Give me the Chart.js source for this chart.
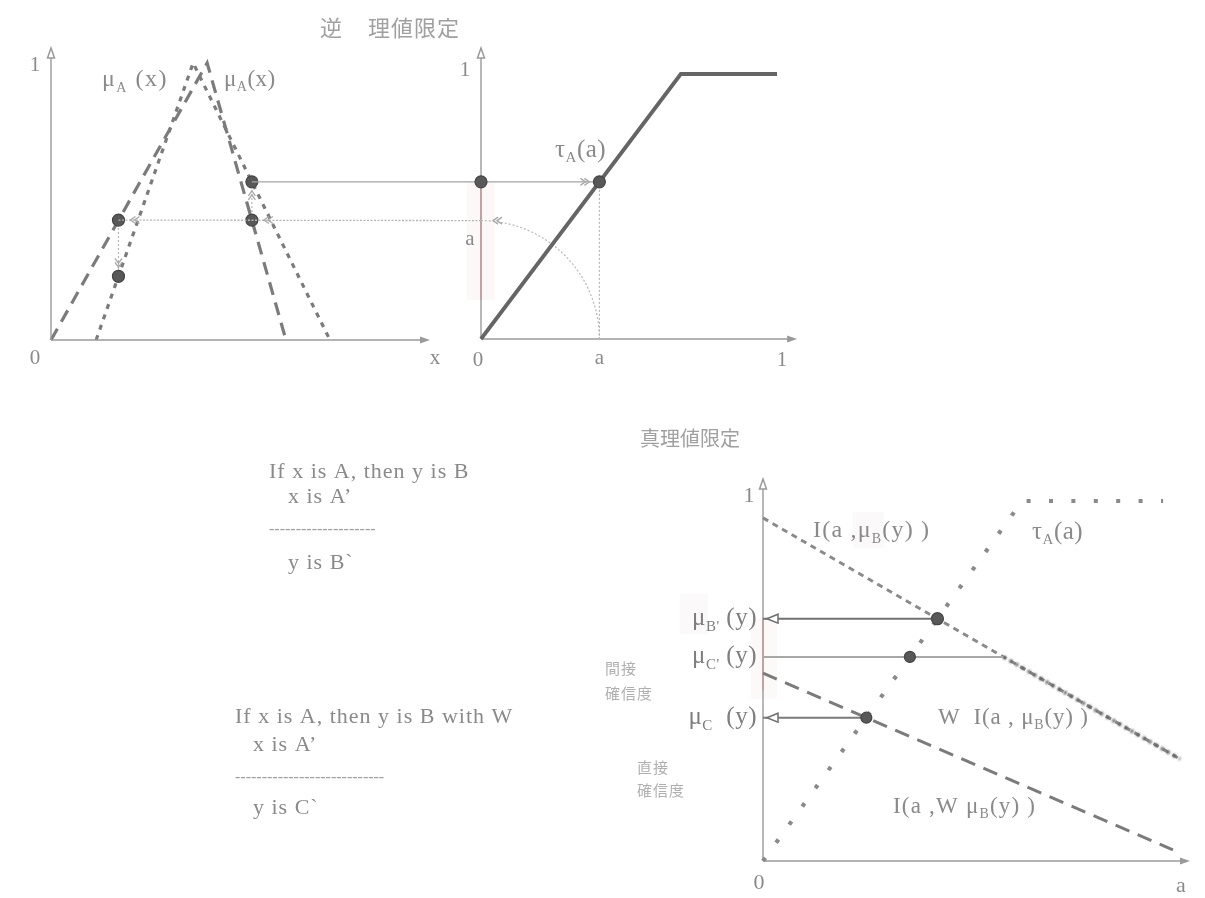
<!DOCTYPE html>
<html>
<head>
<meta charset="utf-8">
<script src="https://cdn.jsdelivr.net/npm/chart.js@4.4.1/dist/chart.umd.min.js"></script>
<style>
  html, body { margin: 0; padding: 0; background: #fff; }
  #wrap { position: relative; width: 1205px; height: 898px; overflow: hidden; background: #fff; }
  #wrap canvas { position: absolute; left: 0; top: 0; }
</style>
</head>
<body>
<div id="wrap">
  <canvas id="inv" width="1205" height="898"></canvas>
  <canvas id="tau" width="1205" height="898"></canvas>
  <canvas id="qual" width="1205" height="898"></canvas>
</div>
<script>
// ---------- top left: membership functions over x ----------
const muA  = [[0, 0], [0.412, 1], [0.62, 0]];      // μA(x)  (long dash)
const muA2 = [[0.119, 0], [0.375, 1], [0.736, 0]]; // μA'(x) (dotted)
const levelA = 0.433;                              // level a on the μ axis
const xLeft = 0.178, xRight = 0.53;                // where μA(x) = a
const muA2Left = 0.23, muA2Right = 0.571;          // μA'(x) at those x
const ticksTopLeft = ['0', '1', 'x'];

// ---------- top right: τA(a) ----------
const tauTop = [[0, 0], [0.675, 1], [1, 1]];
const aValue = 0.4;
const tauAtA = 0.593;
const ticksTopRight = ['0', 'a', '1'];

// ---------- bottom: truth-value qualification ----------
const tauBottom = [[0, 0], [0.607, 1], [0.937, 1]];
const implB  = [[0, 0.953], [0.977, 0.283]];  // I(a, μB(y))
const implWB = [[0, 0.522], [0.960, 0.031]];  // I(a, W μB(y))
const wLevel = 0.567;                         // W
const wKink  = 0.563;                         // W meets I(a, μB(y))
const muBp = [0.4085, 0.673];                 // μB'(y)
const muCp = [0.344, 0.567];                  // μC'(y)
const muC  = [0.242, 0.398];                  // μC(y)
const ticksBottom = ['0', 'a', '1'];

const LINE = '#7b7b7b';
const AXIS = '#9a9a9a';
const TEXT = '#8a8a8a';
const DOT = '#585858';
const SERIF = '"Liberation Serif", "DejaVu Serif", serif';
const CJK = '"Noto Sans CJK JP", "Noto Sans CJK SC", sans-serif';

const pts = arr => arr.map(([x, y]) => ({ x, y }));

function line(data, color, width, dash, extra) {
  return Object.assign({
    data: pts(data), showLine: true, borderColor: color, borderWidth: width,
    borderDash: dash || [], pointRadius: 0, fill: false, clip: false, tension: 0,
    borderCapStyle: 'butt'
  }, extra || {});
}
function dots(data, r, color) {
  return {
    data: pts(data), showLine: false, pointRadius: r, pointBackgroundColor: color,
    pointBorderColor: '#454545', pointBorderWidth: 1.2, clip: false
  };
}

// text with subscripts: parts = [[text, isSub], ...]
function rich(ctx, parts, x, y, size, color, align, spacing) {
  ctx.save();
  ctx.letterSpacing = (spacing || 0) + 'px';
  const sub = Math.round(size * 0.6);
  let total = 0;
  const widths = parts.map(([t, s]) => {
    ctx.font = (s ? sub : size) + 'px ' + SERIF;
    const w = ctx.measureText(t).width;
    total += w;
    return w;
  });
  let cx = align === 'right' ? x - total : align === 'center' ? x - total / 2 : x;
  ctx.fillStyle = color;
  ctx.textBaseline = 'middle';
  ctx.textAlign = 'left';
  parts.forEach(([t, s], i) => {
    ctx.font = (s ? sub : size) + 'px ' + SERIF;
    ctx.fillText(t, cx, s ? y + size * 0.34 : y);
    cx += widths[i];
  });
  ctx.restore();
}
function text(ctx, t, x, y, size, color, align, font, spacing) {
  ctx.save();
  ctx.letterSpacing = (spacing || 0) + 'px';
  ctx.font = size + 'px ' + (font || SERIF);
  ctx.fillStyle = color;
  ctx.textAlign = align || 'left';
  ctx.textBaseline = 'middle';
  ctx.fillText(t, x, y);
  ctx.restore();
}
// arrowhead with tip at (x, y) pointing along angle
function head(ctx, x, y, ang, len, wid, color, mode) {
  ctx.save();
  ctx.translate(x, y);
  ctx.rotate(ang);
  ctx.beginPath();
  if (mode === 'chevron') {
    ctx.moveTo(-len, -wid); ctx.lineTo(0, 0); ctx.lineTo(-len, wid);
    ctx.moveTo(-len - 4, -wid); ctx.lineTo(-4, 0); ctx.lineTo(-len - 4, wid);
    ctx.strokeStyle = color; ctx.lineWidth = 1.3; ctx.setLineDash([]); ctx.stroke();
  } else if (mode === 'open') {
    ctx.moveTo(0, 0); ctx.lineTo(-len, -wid); ctx.lineTo(-len, wid); ctx.closePath();
    ctx.fillStyle = '#fff'; ctx.fill();
    ctx.strokeStyle = color; ctx.lineWidth = 1.5; ctx.setLineDash([]); ctx.stroke();
  } else {
    ctx.moveTo(0, 0); ctx.lineTo(-len, -wid); ctx.lineTo(-len, wid); ctx.closePath();
    ctx.fillStyle = color; ctx.fill();
  }
  ctx.restore();
}
function seg(ctx, x1, y1, x2, y2, color, width, dash) {
  ctx.save();
  ctx.beginPath();
  ctx.moveTo(x1, y1); ctx.lineTo(x2, y2);
  ctx.strokeStyle = color; ctx.lineWidth = width; ctx.setLineDash(dash || []);
  ctx.stroke();
  ctx.restore();
}
// axes with arrows, tips given in scale units
function axes(chart, xTip, yTip) {
  const { ctx, scales: { x, y } } = chart;
  const ox = x.getPixelForValue(0), oy = y.getPixelForValue(0);
  const tx = x.getPixelForValue(xTip), ty = y.getPixelForValue(yTip);
  seg(ctx, ox, oy, tx - 4, oy, AXIS, 1.4);
  seg(ctx, ox, oy, ox, ty + 4, AXIS, 1.4);
  head(ctx, tx, oy, 0, 10, 3.5, AXIS);
  head(ctx, ox, ty, -Math.PI / 2, 10, 3.5, AXIS, 'open');
}

// dataset-level blur for the soft W·I segment
const softPlugin = {
  id: 'soft',
  beforeDatasetDraw(chart, args) {
    const ds = chart.data.datasets[args.index];
    if (ds.soft) { chart.ctx.save(); chart.ctx.filter = 'blur(' + ds.soft + 'px)'; }
  },
  afterDatasetDraw(chart, args) {
    const ds = chart.data.datasets[args.index];
    if (ds.soft) chart.ctx.restore();
  }
};

function makeChart(id, pad, datasets, plugins) {
  return new Chart(document.getElementById(id), {
    type: 'scatter',
    data: { datasets },
    options: {
      responsive: false, animation: false, events: [], devicePixelRatio: 1,
      layout: { padding: pad },
      plugins: { legend: { display: false }, tooltip: { enabled: false } },
      scales: {
        x: { type: 'linear', min: 0, max: 1, display: false },
        y: { type: 'linear', min: 0, max: 1, display: false }
      }
    },
    plugins
  });
}

// ================= top left =================
const invChart = makeChart('inv', { left: 51, right: 775, top: 63, bottom: 558 }, [
  dots([[xRight, muA2Right], [xRight, levelA], [xLeft, levelA], [xLeft, muA2Left]], 6, DOT),
  line([[xLeft, levelA], [xLeft, muA2Left]], '#b4b4b4', 1.2, [2, 2]),
  line([[xRight, levelA], [xRight, muA2Right]], '#b4b4b4', 1.2, [2, 2]),
  line(muA, LINE, 3.2, [13, 8]),
  line(muA2, LINE, 3.2, [5, 6])
], [{
  id: 'invDeco',
  afterDatasetsDraw(chart) {
    const { ctx, scales: { x, y } } = chart;
    axes(chart, 1, 1.054);
    const ox = x.getPixelForValue(0), oy = y.getPixelForValue(0);
    text(ctx, ticksTopLeft[0], ox - 16, oy + 18, 21, TEXT, 'center');
    text(ctx, ticksTopLeft[1], ox - 16, y.getPixelForValue(1) + 2, 21, TEXT, 'center');
    text(ctx, ticksTopLeft[2], x.getPixelForValue(1) + 5, oy + 18, 21, TEXT, 'center');
    rich(ctx, [['μ'], ['A', 1], [' (x)']], 102, 80, 24, TEXT, 'left', 1.5);
    rich(ctx, [['μ'], ['A', 1], ['(x)']], 224, 80, 23, TEXT, 'left', 0.5);
    // small guide arrows between the points
    head(ctx, x.getPixelForValue(xLeft), y.getPixelForValue(muA2Left) - 9, Math.PI / 2, 5, 3.5, '#a8a8a8', 'chevron');
    head(ctx, x.getPixelForValue(xRight), y.getPixelForValue(muA2Right) + 9, -Math.PI / 2, 5, 3.5, '#a8a8a8', 'chevron');
    // title
    text(ctx, '逆', 320, 28, 22, '#a0a0a0', 'left', CJK);
    text(ctx, '理値限定', 368, 28, 22, '#a0a0a0', 'left', CJK, 1);
  }
}]);

// ================= top right =================
const tauChart = makeChart('tau', { left: 481, right: 428, top: 74, bottom: 559 }, [
  dots([[0, tauAtA], [aValue, tauAtA]], 6, DOT),
  line([[aValue, tauAtA], [aValue, 0]], '#b8b8b8', 1.2, [2, 2]),
  line(tauTop, '#656565', 3.8, [])
], [{
  id: 'tauBack',
  beforeDatasetsDraw(chart) {
    const { ctx, scales: { x, y } } = chart;
    const ox = x.getPixelForValue(0);
    const yTop = y.getPixelForValue(tauAtA), yLow = y.getPixelForValue(0.147);
    ctx.save();
    ctx.fillStyle = 'rgba(235, 205, 205, 0.14)';
    ctx.fillRect(ox - 14, yTop, 28, yLow - yTop);
    ctx.restore();
    axes(chart, 1.068, 1.098);
    seg(ctx, ox, yTop, ox, yLow, '#c49a9a', 1.4);

    // connectors across both panels
    const lx = invChart.scales.x, ly = invChart.scales.y;
    const p1x = lx.getPixelForValue(xRight), p1y = ly.getPixelForValue(muA2Right);
    const qx = x.getPixelForValue(aValue), qy = y.getPixelForValue(tauAtA);
    seg(ctx, p1x, p1y, qx, qy, '#a4a4a4', 1.4);
    head(ctx, qx - 10, qy, 0, 5, 3.5, '#a8a8a8', 'chevron');

    // rotate a from the a-axis onto the μ axis
    const oy = y.getPixelForValue(0);
    const r = qx - ox;
    ctx.save();
    ctx.beginPath();
    ctx.arc(ox, oy, r, 0, -Math.PI / 2, true);
    ctx.strokeStyle = '#b8b8b8'; ctx.lineWidth = 1.2; ctx.setLineDash([2, 2]);
    ctx.stroke();
    ctx.restore();
    const ay = oy - r;
    const p2x = lx.getPixelForValue(xLeft);
    seg(ctx, ox, ay, p2x, ly.getPixelForValue(levelA), '#b4b4b4', 1.3, [2, 1.5]);
    head(ctx, ox + 12, ay, Math.PI, 5, 3.5, '#a8a8a8', 'chevron');
    head(ctx, lx.getPixelForValue(xRight) + 12, ly.getPixelForValue(levelA), Math.PI, 5, 3.5, '#a8a8a8', 'chevron');
    head(ctx, p2x + 12, ly.getPixelForValue(levelA), Math.PI, 5, 3.5, '#a8a8a8', 'chevron');
  },
  afterDatasetsDraw(chart) {
    const { ctx, scales: { x, y } } = chart;
    const ox = x.getPixelForValue(0), oy = y.getPixelForValue(0);
    text(ctx, ticksTopRight[0], ox - 3, oy + 21, 21, TEXT, 'center');
    text(ctx, ticksTopRight[1], x.getPixelForValue(aValue), oy + 19, 21, TEXT, 'center');
    text(ctx, ticksTopRight[2], x.getPixelForValue(1) + 5, oy + 21, 21, TEXT, 'center');
    text(ctx, '1', ox - 16, y.getPixelForValue(1) - 4, 21, TEXT, 'center');
    text(ctx, 'a', ox - 11, oy - (x.getPixelForValue(aValue) - ox) + 19, 21, TEXT, 'center');
    rich(ctx, [['τ'], ['A', 1], ['(a)']], 555, 150, 25, TEXT, 'left', 0.5);
  }
}]);

// ================= bottom =================
const qualChart = makeChart('qual', { left: 763, right: 15, top: 501, bottom: 37 }, [
  dots([muBp], 6, DOT),
  dots([muCp], 5.5, DOT),
  dots([muC], 5.5, DOT),
  line([[0, muBp[1]], muBp], '#707070', 2),
  line([[0, muC[1]], muC], '#7a7a7a', 2),
  line([[0, wLevel], [wKink, wLevel]], '#a8a8a8', 2),
  line([[wKink, wLevel], implB[1]], '#5a5a5a', 3.4, [3, 4], { soft: 0.9 }),
  line(implWB, LINE, 3, [15, 9]),
  line(implB, '#8a8a8a', 3, [6, 5]),
  line(tauBottom, '#8a8a8a', 4.2, [4, 18.4])
], [softPlugin, {
  id: 'qualDeco',
  beforeDatasetsDraw(chart) {
    const { ctx, scales: { x, y } } = chart;
    const ox = x.getPixelForValue(0);
    ctx.save();
    ctx.fillStyle = 'rgba(235, 205, 205, 0.12)';
    ctx.fillRect(ox - 12, y.getPixelForValue(muBp[1]), 26, 80);
    ctx.fillStyle = 'rgba(230, 215, 215, 0.14)';
    ctx.fillRect(680, 594, 28, 40);
    ctx.fillRect(853, 512, 31, 36);
    ctx.restore();
    axes(chart, 1, 1.061);
    seg(ctx, ox, y.getPixelForValue(muBp[1]), ox, y.getPixelForValue(muBp[1]) + 72, '#c49a9a', 1.4);
  },
  afterDatasetsDraw(chart) {
    const { ctx, scales: { x, y } } = chart;
    const ox = x.getPixelForValue(0), oy = y.getPixelForValue(0);
    head(ctx, ox + 4, y.getPixelForValue(muBp[1]), Math.PI, 11, 4.5, '#707070', 'open');
    head(ctx, ox + 4, y.getPixelForValue(muC[1]), Math.PI, 11, 4.5, '#707070', 'open');

    text(ctx, ticksBottom[0], ox - 4, oy + 22, 22, TEXT, 'center');
    text(ctx, ticksBottom[1], x.getPixelForValue(1) - 9, oy + 25, 22, TEXT, 'center');
    text(ctx, ticksBottom[2], ox - 14, y.getPixelForValue(1) - 5, 22, TEXT, 'center');

    text(ctx, '真理値限定', 640, 438, 20, '#a0a0a0', 'left', CJK);

    rich(ctx, [['I(a ,'], ['μ'], ['B', 1], ['(y) )']], 813, 531, 24, TEXT, 'left', 1.2);
    rich(ctx, [['τ'], ['A', 1], ['(a)']], 1032, 532, 25, TEXT, 'left', 0.5);
    rich(ctx, [['μ'], ['B\'', 1], [' (y)']], 757, y.getPixelForValue(muBp[1]), 25, '#7e7e7e', 'right', 0.5);
    rich(ctx, [['μ'], ['C\'', 1], [' (y)']], 757, y.getPixelForValue(wLevel), 25, '#7e7e7e', 'right', 0.5);
    rich(ctx, [['μ'], ['C', 1], ['  (y)']], 757, y.getPixelForValue(muC[1]), 25, '#7e7e7e', 'right', 0.5);
    rich(ctx, [['W  I(a , '], ['μ'], ['B', 1], ['(y) )']], 938, 718, 23, TEXT, 'left', 0.8);
    rich(ctx, [['I(a ,W '], ['μ'], ['B', 1], ['(y) )']], 893, 807, 23, TEXT, 'left', 1.2);

    text(ctx, '間接', 605, 668, 15, '#b0b0b0', 'left', CJK, 1);
    text(ctx, '確信度', 605, 693, 15, '#b0b0b0', 'left', CJK, 1);
    text(ctx, '直接', 637, 767, 15, '#b0b0b0', 'left', CJK, 1);
    text(ctx, '確信度', 637, 790, 15, '#b0b0b0', 'left', CJK, 1);

    // the two inference schemes
    const R = '#8a8a8a';
    text(ctx, 'If x is A, then y is B', 269, 472, 22, R, 'left', SERIF, 1);
    text(ctx, 'x is A’', 288, 497, 22, R, 'left', SERIF, 1);
    text(ctx, '--------------------', 269, 530, 16, '#a0a0a0');
    text(ctx, 'y is B`', 288, 563, 22, R, 'left', SERIF, 1);
    text(ctx, 'If x is A, then y is B with W', 235, 717, 22, R, 'left', SERIF, 1);
    text(ctx, 'x is A’', 253, 745, 22, R, 'left', SERIF, 1);
    text(ctx, '----------------------------', 235, 778, 16, '#a0a0a0');
    text(ctx, 'y is C`', 253, 808, 22, R, 'left', SERIF, 1);
  }
}]);
</script>
</body>
</html>
